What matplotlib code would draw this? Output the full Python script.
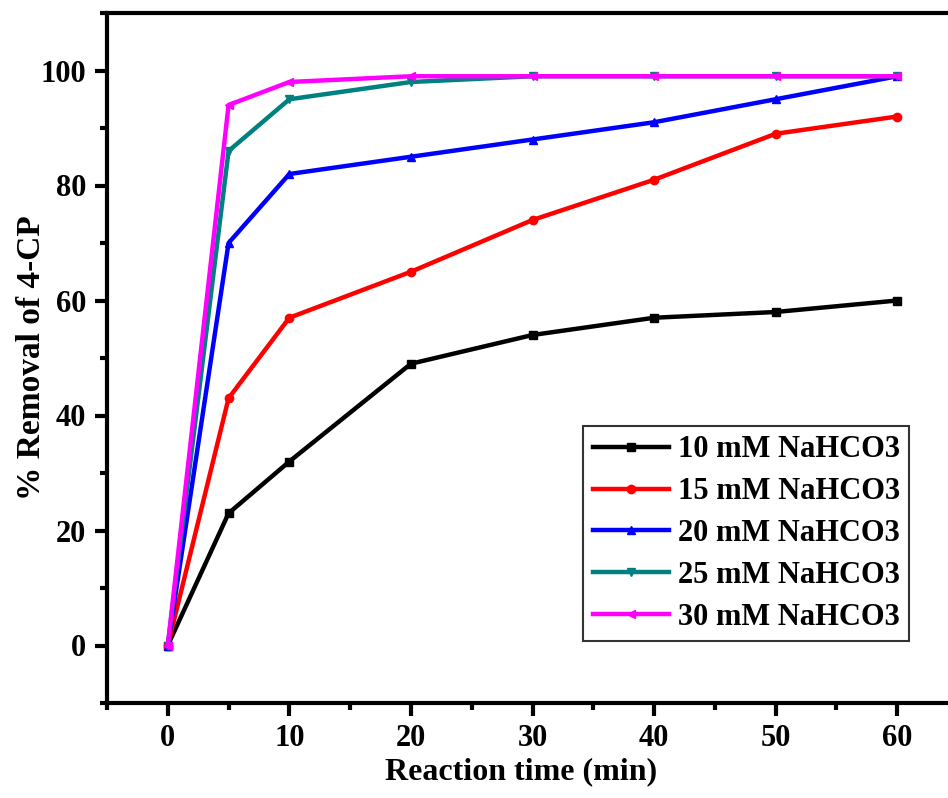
import matplotlib
matplotlib.use("Agg")
import matplotlib.pyplot as plt
from matplotlib.ticker import MultipleLocator

plt.rcParams['font.family'] = ['Liberation Serif', 'DejaVu Serif']
plt.rcParams['font.weight'] = 'bold'

time = [0, 5, 10, 20, 30, 40, 50, 60]
labels = ["10 mM NaHCO3", "15 mM NaHCO3", "20 mM NaHCO3", "25 mM NaHCO3", "30 mM NaHCO3"]
s10 = [0, 23, 32, 49, 54, 57, 58, 60]
s15 = [0, 43, 57, 65, 74, 81, 89, 92]
s20 = [0, 70, 82, 85, 88, 91, 95, 99]
s25 = [0, 86, 95, 98, 99, 99, 99, 99]
s30 = [0, 94, 98, 99, 99, 99, 99, 99]
series = [s10, s15, s20, s25, s30]
colors = ["black", "#ff0000", "#0000ff", "#008080", "#ff00ff"]
markers = ["s", "o", "^", "v", "<"]

fig = plt.figure(figsize=(9.48, 7.98), dpi=100)
ax = fig.add_axes([107/948, 95/798, 851/948, 690/798])

for ys, c, m, lab in zip(series, colors, markers, labels):
    ax.plot(time, ys, color=c, marker=m, markersize=6, linewidth=3.2, label=lab)

ax.set_xlim(-5, 65)
ax.set_ylim(-10, 110)
ax.xaxis.set_major_locator(MultipleLocator(10))
ax.xaxis.set_minor_locator(MultipleLocator(5))
ax.yaxis.set_major_locator(MultipleLocator(20))
ax.yaxis.set_minor_locator(MultipleLocator(10))
ax.tick_params(which='major', direction='out', length=9, width=3, labelsize=22, pad=6)
ax.tick_params(which='minor', direction='out', length=5, width=3)
for sp in ax.spines.values():
    sp.set_linewidth(3)
for lbl in ax.get_xticklabels() + ax.get_yticklabels():
    lbl.set_fontweight('bold')

ax.set_xlabel("Reaction time (min)", fontsize=23, fontweight='bold')
ax.xaxis.set_label_coords(0.486, -0.078)
ax.set_ylabel("% Removal of 4-CP", fontsize=24, fontweight='bold', va='center')
ax.yaxis.set_label_coords(-0.089, 0.5)

leg = ax.legend(loc='lower right', bbox_to_anchor=(0.943, 0.09), fontsize=22,
                handlelength=2.5, frameon=True, fancybox=False, edgecolor='black',
                borderpad=0.3, labelspacing=0.42, handletextpad=0.3,
                borderaxespad=0)
leg.get_frame().set_linewidth(1.5)
for t in leg.get_texts():
    t.set_fontweight('bold')

fig.savefig("out.png", dpi=100)
